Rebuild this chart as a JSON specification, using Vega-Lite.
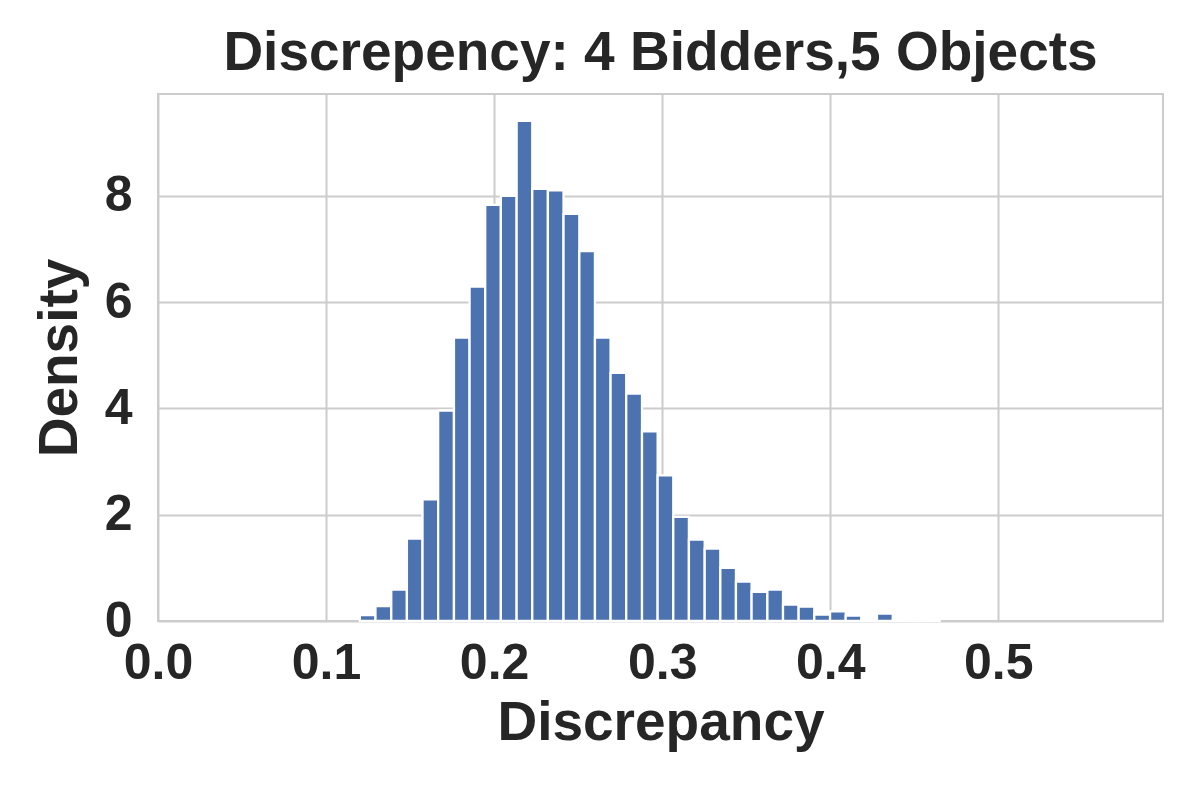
{
  "$schema": "https://vega.github.io/schema/vega-lite/v6.json",
  "autosize": "none",
  "width": 1005,
  "height": 527,
  "padding": {"left": 158, "top": 94, "right": 37, "bottom": 179},
  "background": "white",
  "config": {
    "font": "Liberation Sans",
    "view": {"stroke": "#cccccc", "strokeWidth": 2},
    "axis": {
      "domain": false,
      "ticks": false,
      "grid": true,
      "gridColor": "#cccccc",
      "gridWidth": 2,
      "labelFlush": false,
      "labelFont": "Liberation Sans",
      "labelFontWeight": "bold",
      "labelFontSize": 50,
      "labelColor": "#262626",
      "titleFont": "Liberation Sans",
      "titleFontWeight": "bold",
      "titleFontSize": 55,
      "titleColor": "#262626"
    },
    "title": {
      "font": "Liberation Sans",
      "fontWeight": "bold",
      "fontSize": 55,
      "color": "#262626"
    }
  },
  "title": {"text": "Discrepency: 4 Bidders,5 Objects", "anchor": "middle", "offset": 12},
  "data": {
    "values": [
      {"start": 0.1201, "end": 0.1294, "density": 0.11},
      {"start": 0.1294, "end": 0.1388, "density": 0.28},
      {"start": 0.1388, "end": 0.1481, "density": 0.59},
      {"start": 0.1481, "end": 0.1574, "density": 1.55},
      {"start": 0.1574, "end": 0.1667, "density": 2.29},
      {"start": 0.1667, "end": 0.1761, "density": 3.96},
      {"start": 0.1761, "end": 0.1854, "density": 5.33},
      {"start": 0.1854, "end": 0.1947, "density": 6.29},
      {"start": 0.1947, "end": 0.2040, "density": 7.83},
      {"start": 0.2040, "end": 0.2134, "density": 8.00},
      {"start": 0.2134, "end": 0.2227, "density": 9.41},
      {"start": 0.2227, "end": 0.2320, "density": 8.13},
      {"start": 0.2320, "end": 0.2413, "density": 8.10},
      {"start": 0.2413, "end": 0.2507, "density": 7.66},
      {"start": 0.2507, "end": 0.2600, "density": 6.96},
      {"start": 0.2600, "end": 0.2693, "density": 5.33},
      {"start": 0.2693, "end": 0.2786, "density": 4.67},
      {"start": 0.2786, "end": 0.2880, "density": 4.28},
      {"start": 0.2880, "end": 0.2973, "density": 3.57},
      {"start": 0.2973, "end": 0.3066, "density": 2.74},
      {"start": 0.3066, "end": 0.3159, "density": 1.96},
      {"start": 0.3159, "end": 0.3253, "density": 1.53},
      {"start": 0.3253, "end": 0.3346, "density": 1.36},
      {"start": 0.3346, "end": 0.3439, "density": 1.00},
      {"start": 0.3439, "end": 0.3532, "density": 0.74},
      {"start": 0.3532, "end": 0.3626, "density": 0.55},
      {"start": 0.3626, "end": 0.3719, "density": 0.59},
      {"start": 0.3719, "end": 0.3812, "density": 0.31},
      {"start": 0.3812, "end": 0.3905, "density": 0.27},
      {"start": 0.3905, "end": 0.3999, "density": 0.12},
      {"start": 0.3999, "end": 0.4092, "density": 0.18},
      {"start": 0.4092, "end": 0.4185, "density": 0.10},
      {"start": 0.4185, "end": 0.4278, "density": 0.04},
      {"start": 0.4278, "end": 0.4372, "density": 0.14},
      {"start": 0.4372, "end": 0.4465, "density": 0.005},
      {"start": 0.4465, "end": 0.4558, "density": 0},
      {"start": 0.4558, "end": 0.4651, "density": 0.025}
    ]
  },
  "mark": {"type": "rect", "color": "#4c72b0", "stroke": "white", "strokeWidth": 2.3},
  "encoding": {
    "x": {
      "field": "start",
      "type": "quantitative",
      "scale": {"domain": [0, 0.598], "nice": false, "zero": false},
      "axis": {
        "title": "Discrepancy",
        "values": [0, 0.1, 0.2, 0.3, 0.4, 0.5],
        "format": ".1f",
        "labelPadding": 17,
        "titlePadding": 8
      }
    },
    "x2": {"field": "end"},
    "y": {
      "field": "density",
      "type": "quantitative",
      "scale": {"domain": [0, 9.915], "nice": false},
      "axis": {
        "title": "Density",
        "values": [0, 2, 4, 6, 8],
        "labelPadding": 26,
        "titlePadding": 16
      }
    },
    "y2": {"datum": 0}
  }
}
